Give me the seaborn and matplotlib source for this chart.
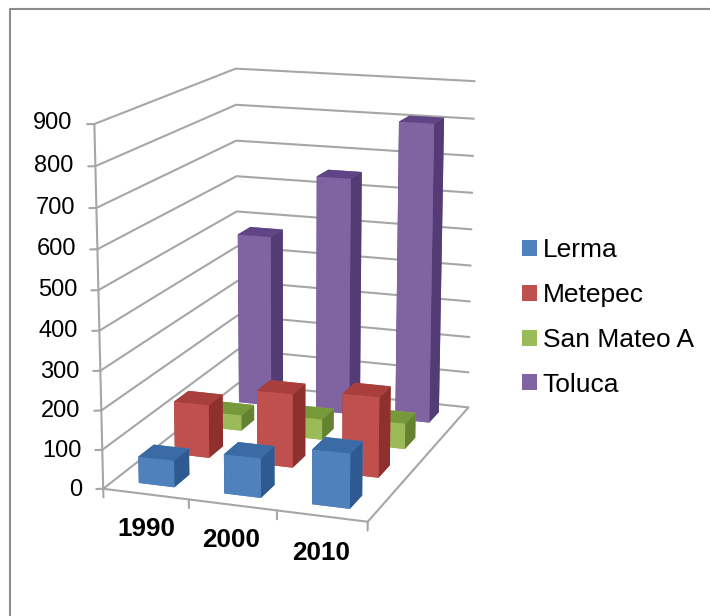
import numpy as np
import matplotlib
matplotlib.use("Agg")
import matplotlib.pyplot as plt
from matplotlib.patches import Patch
from matplotlib.lines import Line2D
from matplotlib.transforms import ScaledTranslation
import seaborn as sns

years = ["1990", "2000", "2010"]
series = ["Lerma", "Metepec", "San Mateo A", "Toluca"]
lerma = [68, 100, 138]
metepec = [140, 192, 208]
san_mateo = [42, 55, 68]
toluca = [475, 650, 810]
base_colors = ["#4F81BD", "#C0504D", "#9BBB59", "#8064A2"]
top_colors = ["#3A6BA5", "#A83F3C", "#769A3A", "#5F4585"]
side_colors = ["#2F5A91", "#8E302E", "#64822F", "#533C75"]
z_ticks = list(range(0, 901, 100))

sns.set_theme(style="white")
plt.rcParams["font.family"] = ["Liberation Sans", "DejaVu Sans"]
palette = sns.color_palette(base_colors)

GRAY = "#a6a6a6"
W, H = 710, 616
fig = plt.figure(figsize=(W / 100, H / 100), dpi=100, facecolor="white")
ax = fig.add_axes([10.4 / W, 52.8 / H, 557.1 / W, 557.1 / H], projection="3d")
ax.set_proj_type("persp", focal_length=0.689)
ax.view_init(elev=14.23, azim=-70.69)
ax.set_box_aspect((0.750, 1.024, 1.0))

width = 0.42
vals = [lerma, metepec, san_mateo, toluca]
for si, v in enumerate(vals):
    x = np.arange(len(years)) + 0.5 - width / 2
    y = np.full(len(years), si + 0.5 - width / 2)
    face = []
    for _ in years:
        # order: bottom, top, front, back, left, right
        face += [palette[si], top_colors[si], palette[si], palette[si], side_colors[si], side_colors[si]]
    ax.bar3d(x, y, np.zeros(len(years)), width, width, v, color=face, shade=False, linewidth=0)

ax.set_xlim(0, 3)
ax.set_ylim(0, 4)
ax.set_zlim(0, 900)

for axis in (ax.xaxis, ax.yaxis, ax.zaxis):
    axis.set_pane_color((1, 1, 1, 1))
    axis.pane.set_edgecolor((1, 1, 1, 0))
    axis.line.set_color(GRAY)
    axis.line.set_linewidth(1.5)
    axis._axinfo["grid"]["linewidth"] = 1.5
for axis in (ax.xaxis, ax.yaxis):
    axis._axinfo["grid"]["color"] = (1, 1, 1, 0)
ax.zaxis._axinfo["grid"]["color"] = GRAY
ax.grid(True)


def nudge(label, dx, dy):
    # Axis3D resets tick-label transforms at draw time, so offset through get_transform
    shift = ScaledTranslation(dx * 0.72 / 72, dy * 0.72 / 72, fig.dpi_scale_trans)
    label.get_transform = lambda: ax.transData + shift


ax.set_xticks([0.5, 1.5, 2.5])
ax.set_xticklabels(years, fontsize=18.8, fontweight="bold", color="black")
ax.xaxis._axinfo["tick"]["inward_factor"] = 0
ax.xaxis._axinfo["tick"]["outward_factor"] = 0
ax.tick_params(axis="x", pad=0, width=0)
for lab, (dx, dy) in zip(ax.get_xticklabels(), [(6, -5), (4, -4), (4, -6)]):
    nudge(lab, dx, dy)
ax.set_yticks([])
ax.set_zticks(z_ticks)
ax.set_zticklabels([str(t) for t in z_ticks], fontsize=17, color="black", ha="right")
ax.zaxis.set_ticks_position("lower")
ax.zaxis._axinfo["tick"]["outward_factor"] = 0
ax.zaxis._axinfo["tick"]["inward_factor"] = 0
ax.tick_params(axis="z", pad=2, width=0, labelcolor="black")
for lab in ax.get_zticklabels():
    nudge(lab, -1, 14)

# category boundary ticks under the front axis, value ticks left of the vertical axis
for xb in range(4):
    ax.plot([xb, xb], [0, 0], [0, -22], color=GRAY, lw=1.5, zorder=1)
for zt in z_ticks:
    ax.plot([0, -0.067], [0, -0.032], [zt, zt], color=GRAY, lw=1.5, zorder=1)

handles = [Patch(facecolor=c, edgecolor="none", label=s) for c, s in zip(palette, series)]
fig.legend(handles=handles, loc="center left", bbox_to_anchor=(522 / W, 1 - 317.5 / H), frameon=False,
           fontsize=19, handlelength=0.55, handleheight=0.55, handletextpad=0.23, labelspacing=0.79,
           borderpad=0, borderaxespad=0, labelcolor="black")

fig.add_artist(Line2D([10 / W, 10 / W, 1], [0, 1 - 9 / H, 1 - 9 / H], transform=fig.transFigure,
                      color="#8c8c8c", lw=1.5))
fig.savefig("out.png", dpi=100)
